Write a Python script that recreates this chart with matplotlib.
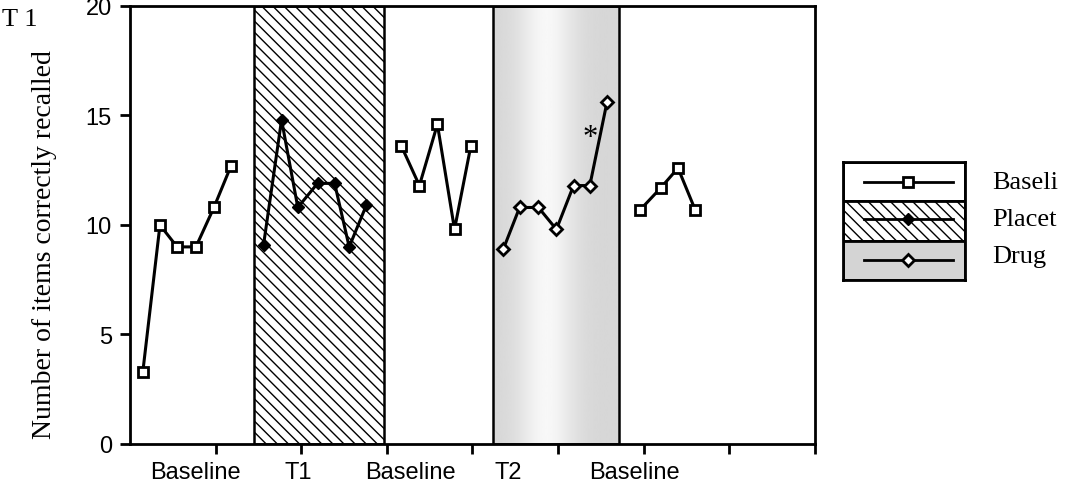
import numpy as np
import matplotlib
matplotlib.use("Agg")
import matplotlib.pyplot as plt
from matplotlib.patches import Rectangle
from matplotlib import transforms

# session positions (x) and recalled items (y) for each phase
base1_x = [0.15, 0.35, 0.55, 0.77, 0.98, 1.18]
base1_y = [3.3, 10.0, 9.0, 9.0, 10.8, 12.7]
t1_x = [1.56, 1.77, 1.96, 2.19, 2.39, 2.56, 2.76]
t1_y = [9.1, 14.8, 10.8, 11.9, 11.9, 9.0, 10.9]
base2_x = [3.17, 3.38, 3.59, 3.79, 3.98]
base2_y = [13.6, 11.8, 14.6, 9.8, 13.6]
t2_x = [4.36, 4.55, 4.77, 4.98, 5.18, 5.37, 5.57]
t2_y = [8.9, 10.8, 10.8, 9.8, 11.8, 11.8, 15.6]
base3_x = [5.96, 6.20, 6.40, 6.60]
base3_y = [10.7, 11.7, 12.6, 10.7]

phase_labels = ["Baseline", "T1", "Baseline", "T2", "Baseline"]
phase_label_x = [0.77, 1.97, 3.28, 4.42, 5.89]
t1_span = (1.45, 2.97)
t2_span = (4.24, 5.71)
legend_names = ["Baseli", "Placet", "Drug"]

serif = "Liberation Serif"
sans = "Liberation Sans"

fig = plt.figure(figsize=(10.69, 4.89), dpi=100)
ax = fig.add_axes([0.1216, 0.09, 0.6408, 0.8957])

# treatment backgrounds
ax.add_patch(Rectangle((t1_span[0], 0), t1_span[1] - t1_span[0], 20,
                       facecolor="white", edgecolor="black", hatch="\\\\\\",
                       linewidth=1.8, zorder=1))
g = np.linspace(-1, 1, 200)
grad = 0.84 + 0.13 * np.exp(-((g + 0.15) / 0.45) ** 2)
ax.imshow(grad[None, :], extent=[t2_span[0], t2_span[1], 0, 20], aspect="auto",
          cmap="gray", vmin=0, vmax=1, zorder=1)
ax.add_patch(Rectangle((t2_span[0], 0), t2_span[1] - t2_span[0], 20,
                       facecolor="none", edgecolor="black", linewidth=1.8, zorder=2))

line_kw = dict(color="black", linewidth=2.2, zorder=3)
for xs, ys in [(base1_x, base1_y), (base2_x, base2_y), (base3_x, base3_y)]:
    ax.plot(xs, ys, marker="s", markersize=6.5, markerfacecolor="white",
            markeredgecolor="black", markeredgewidth=2, **line_kw)
ax.plot(t1_x, t1_y, marker="D", markersize=6, markerfacecolor="black",
        markeredgecolor="black", **line_kw)
ax.plot(t2_x, t2_y, marker="D", markersize=6.5, markerfacecolor="white",
        markeredgecolor="black", markeredgewidth=2, **line_kw)

ax.text(5.37, 14.0, "*", fontsize=22, family=serif, ha="center", va="center")

ax.set_xlim(0, 8)
ax.set_ylim(0, 20)
ax.set_yticks([0, 5, 10, 15, 20])
ax.set_xticks(range(1, 9))
ax.set_xticklabels([])
ax.tick_params(axis="both", direction="out", length=7, width=2, colors="black")
ax.tick_params(axis="y", labelsize=17, pad=6)
for lab in ax.get_yticklabels():
    lab.set_family(sans)
for sp in ax.spines.values():
    sp.set_linewidth(2)

trans = transforms.blended_transform_factory(ax.transData, ax.transAxes)
for lbl, xp in zip(phase_labels, phase_label_x):
    ax.text(xp, -0.064, lbl, transform=trans, ha="center", va="center",
            fontsize=17, family=sans)

fig.text(0.042, 0.50, "Number of items correctly recalled", rotation=90,
         ha="center", va="center", fontsize=20, family=serif)
fig.text(0.002, 0.96, "T 1", ha="left", va="center", fontsize=19, family=serif)

# legend drawn as a stacked key
lax = fig.add_axes([0.7886, 0.4254, 0.1141, 0.2413])
lax.set_xlim(0, 1)
lax.set_ylim(0, 3)
lax.set_xticks([])
lax.set_yticks([])
for sp in lax.spines.values():
    sp.set_linewidth(2)
lax.add_patch(Rectangle((0, 2), 1, 1, facecolor="white", edgecolor="black", linewidth=2))
lax.add_patch(Rectangle((0, 1), 1, 1, facecolor="white", edgecolor="black",
                        hatch="\\\\\\", linewidth=2))
lax.add_patch(Rectangle((0, 0), 1, 1, facecolor="#d4d4d4", edgecolor="black", linewidth=2))
lx = [0.17, 0.90]
lax.plot(lx, [2.5, 2.5], color="black", linewidth=2)
lax.plot([0.53], [2.5], marker="s", markersize=6.5, markerfacecolor="white",
         markeredgecolor="black", markeredgewidth=2)
lax.plot(lx, [1.55, 1.55], color="black", linewidth=2)
lax.plot([0.53], [1.55], marker="D", markersize=6, color="black")
lax.plot(lx, [0.5, 0.5], color="black", linewidth=2)
lax.plot([0.53], [0.5], marker="D", markersize=6.5, markerfacecolor="white",
         markeredgecolor="black", markeredgewidth=2)

for name, yc in zip(legend_names, [183, 220, 257]):
    fig.text(992 / 1069, 1 - yc / 489, name, ha="left", va="center",
             fontsize=19, family=serif)

fig.savefig("out.png", dpi=100)
